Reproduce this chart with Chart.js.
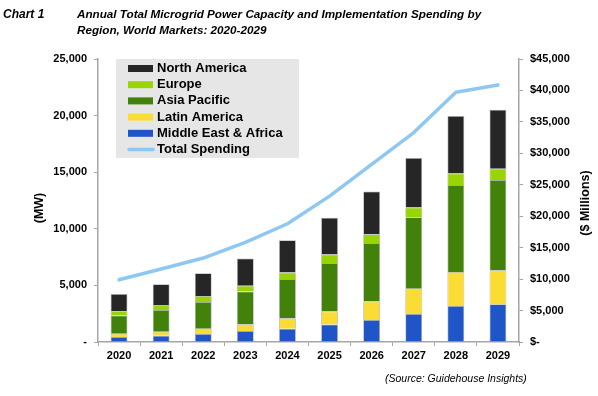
<!DOCTYPE html>
<html><head><meta charset="utf-8">
<script src="https://cdn.jsdelivr.net/npm/chart.js@4"></script>
<style>
body{margin:0;background:#fff;}
#wrap{position:relative;width:598px;height:396px;overflow:hidden;}
canvas{position:absolute;left:0;top:0;}
.t{position:absolute;font-family:Arial,"Liberation Sans",sans-serif;font-weight:bold;font-style:italic;font-size:11.7px;line-height:16px;color:#000;white-space:nowrap;}
.src{position:absolute;font-family:Arial,"Liberation Sans",sans-serif;font-style:italic;font-size:10.5px;line-height:12px;left:385px;top:372px;color:#000;white-space:nowrap;}
</style></head>
<body><div id="wrap"><canvas id="c" width="598" height="396"></canvas>
<div class="t" style="left:3px;top:6px;font-size:12px">Chart 1</div>
<div class="t" style="left:77px;top:6px">Annual Total Microgrid Power Capacity and Implementation Spending by<br>Region, World Markets: 2020-2029</div>
<div class="src">(Source: Guidehouse Insights)</div>
</div>
<script>
const years = ['2020','2021','2022','2023','2024','2025','2026','2027','2028','2029'];
const middleEastAfrica = [440, 560, 710, 975, 1180, 1540, 1950, 2480, 3190, 3340];
const latinAmerica     = [290, 350, 470, 590, 920, 1150, 1630, 2220, 2990, 2990];
const asiaPacific      = [1600, 1920, 2360, 2900, 3460, 4290, 5170, 6320, 7680, 7980];
const europe           = [390, 440, 530, 500, 590, 740, 770, 860, 1030, 1000];
const northAmerica     = [1510, 1840, 2010, 2420, 2840, 3250, 3780, 4370, 5080, 5200];
const totalSpending    = [9900, 11600, 13350, 15850, 18800, 23200, 28250, 33300, 39700, 40850];
const mwTicks = [0, 5000, 10000, 15000, 20000, 25000];
const spendTicks = [0, 5000, 10000, 15000, 20000, 25000, 30000, 35000, 40000, 45000];

const FONT = 'Arial, "Liberation Sans", sans-serif';
const AXIS = '#a6a6a6';

function bar(label, data, color) {
  return {type:'bar', label, data, backgroundColor:color, borderColor:'rgba(140,140,140,0.7)',
    borderWidth:0.75, yAxisID:'y', stack:'s', order:1, barPercentage:0.4, categoryPercentage:1};
}

const overlay = {
  id:'overlay',
  afterDraw(chart){
    const ctx = chart.ctx;
    ctx.save();
    ctx.fillStyle = '#000';
    ctx.font = 'bold 12.5px ' + FONT;
    ctx.textAlign = 'center'; ctx.textBaseline = 'middle';
    ctx.save(); ctx.translate(40, 208); ctx.rotate(-Math.PI/2); ctx.fillText('(MW)', 0, 0); ctx.restore();
    ctx.save(); ctx.translate(586, 203); ctx.rotate(-Math.PI/2); ctx.fillText('($ Millions)', 0, 0); ctx.restore();
    ctx.fillStyle = '#e6e6e6';
    ctx.fillRect(116, 59, 183, 99);
    const ds = chart.data.datasets;
    const items = [ds[4], ds[3], ds[2], ds[1], ds[0], ds[5]];
    ctx.font = 'bold 13px ' + FONT;
    ctx.textAlign = 'left'; ctx.textBaseline = 'middle';
    items.forEach((d, i) => {
      const y = 68.5 + i * 16.2;
      if (d.type === 'line') {
        ctx.strokeStyle = d.borderColor; ctx.lineWidth = 3.5; ctx.lineCap = 'round';
        ctx.beginPath(); ctx.moveTo(129, y); ctx.lineTo(153, y); ctx.stroke();
      } else {
        ctx.fillStyle = d.backgroundColor;
        ctx.fillRect(128, y - 3.5, 25, 7);
      }
      ctx.fillStyle = '#000';
      ctx.fillText(d.label, 157, y);
    });
    ctx.restore();
  }
};

new Chart(document.getElementById('c'), {
  data: {
    labels: years,
    datasets: [
      bar('Middle East & Africa', middleEastAfrica, '#2055c8'),
      bar('Latin America', latinAmerica, '#fbdc34'),
      bar('Asia Pacific', asiaPacific, '#42820b'),
      bar('Europe', europe, '#98d502'),
      bar('North America', northAmerica, '#262626'),
      {type:'line', label:'Total Spending', data: totalSpending, yAxisID:'y2', order:0,
       borderColor:'#8ec8f2', backgroundColor:'#8ec8f2', borderWidth:3.5, pointRadius:0,
       tension:0, fill:false, borderCapStyle:'round', borderJoinStyle:'round'}
    ]
  },
  options: {
    responsive:false, animation:false, devicePixelRatio:1,
    layout:{padding:{top:59, left:0, right:0, bottom:0}},
    plugins:{legend:{display:false}, tooltip:{enabled:false}, title:{display:false}},
    scales:{
      x:{
        stacked:true, offset:true,
        grid:{display:true, drawOnChartArea:false, drawTicks:true, tickLength:4, color:AXIS, lineWidth:1, offset:true},
        border:{display:true, color:AXIS, width:1.5},
        ticks:{color:'#000', font:{family:FONT, size:11, weight:'bold'}, padding:3, maxRotation:0},
        afterFit(s){ s.height = 54; }
      },
      y:{
        position:'left', stacked:true, min:0, max:25000,
        afterBuildTicks(s){ s.ticks = mwTicks.map(v => ({value:v})); },
        grid:{display:true, drawOnChartArea:false, drawTicks:true, tickLength:4, color:AXIS, lineWidth:1},
        border:{display:true, color:AXIS, width:1.5},
        ticks:{color:'#000', font:{family:FONT, size:11, weight:'bold'}, padding:7,
          callback:v => v === 0 ? '-' : v.toLocaleString('en-US')},
        afterFit(s){ s.width = 98; }
      },
      y2:{
        position:'right', min:0, max:45000,
        afterBuildTicks(s){ s.ticks = spendTicks.map(v => ({value:v})); },
        grid:{display:true, drawOnChartArea:false, drawTicks:true, tickLength:4, color:AXIS, lineWidth:1},
        border:{display:true, color:AXIS, width:1.5},
        ticks:{color:'#000', font:{family:FONT, size:11, weight:'bold'}, padding:7,
          callback:v => v === 0 ? '$-' : '$' + v.toLocaleString('en-US')},
        afterFit(s){ s.width = 79; }
      }
    }
  },
  plugins:[overlay]
});
</script>
</body></html>
